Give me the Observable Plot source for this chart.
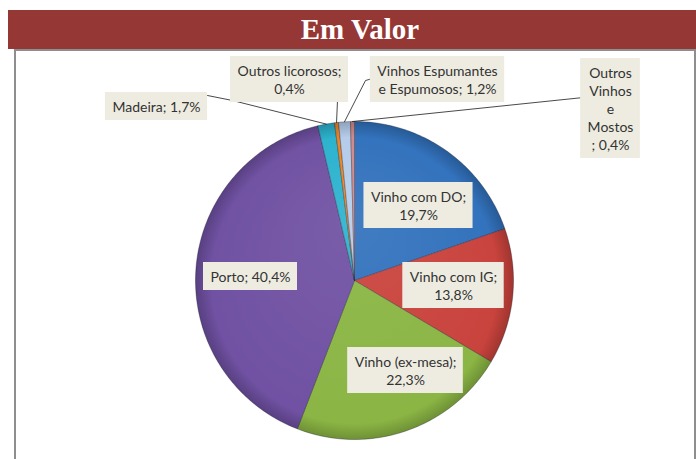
<!DOCTYPE html>
<html>
<head>
<meta charset="utf-8">
<script src="https://cdn.jsdelivr.net/npm/d3@7"></script>
<script src="https://cdn.jsdelivr.net/npm/@observablehq/plot@0.6"></script>
<style>
  html, body { margin: 0; padding: 0; background: #fff; width: 696px; height: 459px; overflow: hidden; }
  #band { position: absolute; left: 8px; top: 10px; width: 688px; height: 39px; background: #953735; }
  #title { position: absolute; left: 0; top: 10px; width: 720px; height: 39px; text-align: center;
           font-family: "Liberation Serif", "Times New Roman", serif; font-weight: bold; font-size: 29px;
           line-height: 39px; color: #fff; }
  #frame { position: absolute; left: 14px; top: 49px; width: 678px; height: 420px;
           border: 2px solid #8e8e8e; border-bottom: none; }
  #chart { position: absolute; left: 0; top: 0; }
</style>
</head>
<body>
<div id="band"></div>
<div id="title">Em Valor</div>
<div id="frame"></div>
<div id="chart"></div>
<script>
// ---- data ----
const categories = ["Vinho com DO", "Vinho com IG", "Vinho (ex-mesa)", "Porto", "Madeira",
  "Outros licorosos", "Vinhos Espumantes e Espumosos", "Outros Vinhos e Mostos"];
const values = [19.7, 13.8, 22.3, 40.4, 1.7, 0.4, 1.2, 0.4];
const labels = ["Vinho com DO;\n19,7%", "Vinho com IG;\n13,8%", "Vinho (ex-mesa);\n22,3%", "Porto; 40,4%",
  "Madeira; 1,7%", "Outros licorosos;\n0,4%", "Vinhos Espumantes\ne Espumosos; 1,2%", "Outros\nVinhos\ne\nMostos\n; 0,4%"];
const colors = ["#3171BC", "#C9423C", "#8AB543", "#6F50A2", "#2BB2CE", "#EC8424", "#B4CCEA", "#CF8A8A"];

// ---- layout (pixel offsets from the pie centre) ----
const W = 696, H = 459, CX = 354, CY = 280, R = 159;
const labelPos = [[64, -75], [99, 5], [51, 90], [-104, -4], [-198, -174], [-65, -201], [83, -201], [256, -172]];
// leader line start/elbow points (end point is computed on the slice arc)
const leaderPts = {4: [[-147, -185], [-122, -180]], 5: [[-17, -180]], 6: [[18, -202], [11, -200]], 7: [[229, -183]]};

const FONT = 14, LH = 18, PADX = 7, PADY = 5;

// ---- geometry from data ----
const pie = d3.pie().sort(null).startAngle(0).endAngle(2 * Math.PI)(values);
const slicePts = [];
pie.forEach((p, i) => {
  slicePts.push({cat: categories[i], x: 0, y: 0});
  const n = Math.max(2, Math.ceil((p.endAngle - p.startAngle) / (Math.PI / 180)));
  for (let k = 0; k <= n; k++) {
    const a = p.startAngle + (p.endAngle - p.startAngle) * k / n;
    slicePts.push({cat: categories[i], x: R * Math.sin(a), y: -R * Math.cos(a)});
  }
  slicePts.push({cat: categories[i], x: 0, y: 0});
});

const ctx = document.createElement("canvas").getContext("2d");
ctx.font = `${FONT}px Lato`;
const boxes = labels.map((t, i) => {
  const lines = t.split("\n");
  const w = d3.max(lines, l => ctx.measureText(l).width);
  const [x, y] = labelPos[i];
  return {x1: x - w / 2 - PADX, x2: x + w / 2 + PADX, y1: y - lines.length * LH / 2 - PADY, y2: y + lines.length * LH / 2 + PADY};
});
const textData = labels.map((t, i) => ({text: t, x: labelPos[i][0], y: labelPos[i][1]}));

const leaders = [];
Object.entries(leaderPts).forEach(([k, pts]) => {
  const p = pie[+k];
  const a = (p.startAngle + p.endAngle) / 2;
  pts.forEach(([x, y]) => leaders.push({id: k, x, y}));
  leaders.push({id: k, x: R * Math.sin(a), y: -R * Math.cos(a)});
});

const svg = Plot.plot({
  width: W, height: H,
  margin: 0,
  x: {domain: [-CX, W - CX], range: [0, W], axis: null},
  y: {domain: [-CY, H - CY], range: [0, H], axis: null},
  color: {domain: categories, range: colors},
  style: {background: "transparent", overflow: "visible"},
  marks: [
    Plot.line(slicePts, {x: "x", y: "y", z: "cat", fill: "cat", stroke: "rgba(30,30,50,0.5)", strokeWidth: 0.7, curve: "linear"}),
    Plot.dot([{x: 0, y: 0}], {x: "x", y: "y", r: R, fill: "url(#shade)", stroke: null}),
    Plot.dot([{x: 0, y: 0}], {x: "x", y: "y", r: R, fill: "url(#hilite)", stroke: null}),
    Plot.line(leaders, {x: "x", y: "y", z: "id", stroke: "#1a1a1a", strokeWidth: 0.8}),
    Plot.rect(boxes, {x1: "x1", x2: "x2", y1: "y1", y2: "y2", fill: "#EEECE1"}),
    Plot.text(textData, {x: "x", y: "y", text: "text", fontSize: FONT, fontFamily: "Lato, Calibri, sans-serif",
      fill: "#333333", lineHeight: LH / FONT, lineAnchor: "middle"})
  ]
});

const defs = d3.select(svg).insert("defs", ":first-child");
const g1 = defs.append("radialGradient").attr("id", "shade").attr("cx", "50%").attr("cy", "50%").attr("r", "50%");
g1.append("stop").attr("offset", "0%").attr("stop-color", "#000").attr("stop-opacity", 0);
g1.append("stop").attr("offset", "90%").attr("stop-color", "#000").attr("stop-opacity", 0);
g1.append("stop").attr("offset", "100%").attr("stop-color", "#000").attr("stop-opacity", 0.2);
const g2 = defs.append("radialGradient").attr("id", "hilite").attr("cx", "50%").attr("cy", "50%").attr("r", "50%")
  .attr("fx", "50%").attr("fy", "30%");
g2.append("stop").attr("offset", "0%").attr("stop-color", "#fff").attr("stop-opacity", 0.08);
g2.append("stop").attr("offset", "100%").attr("stop-color", "#fff").attr("stop-opacity", 0);

document.getElementById("chart").appendChild(svg);
</script>
</body>
</html>
